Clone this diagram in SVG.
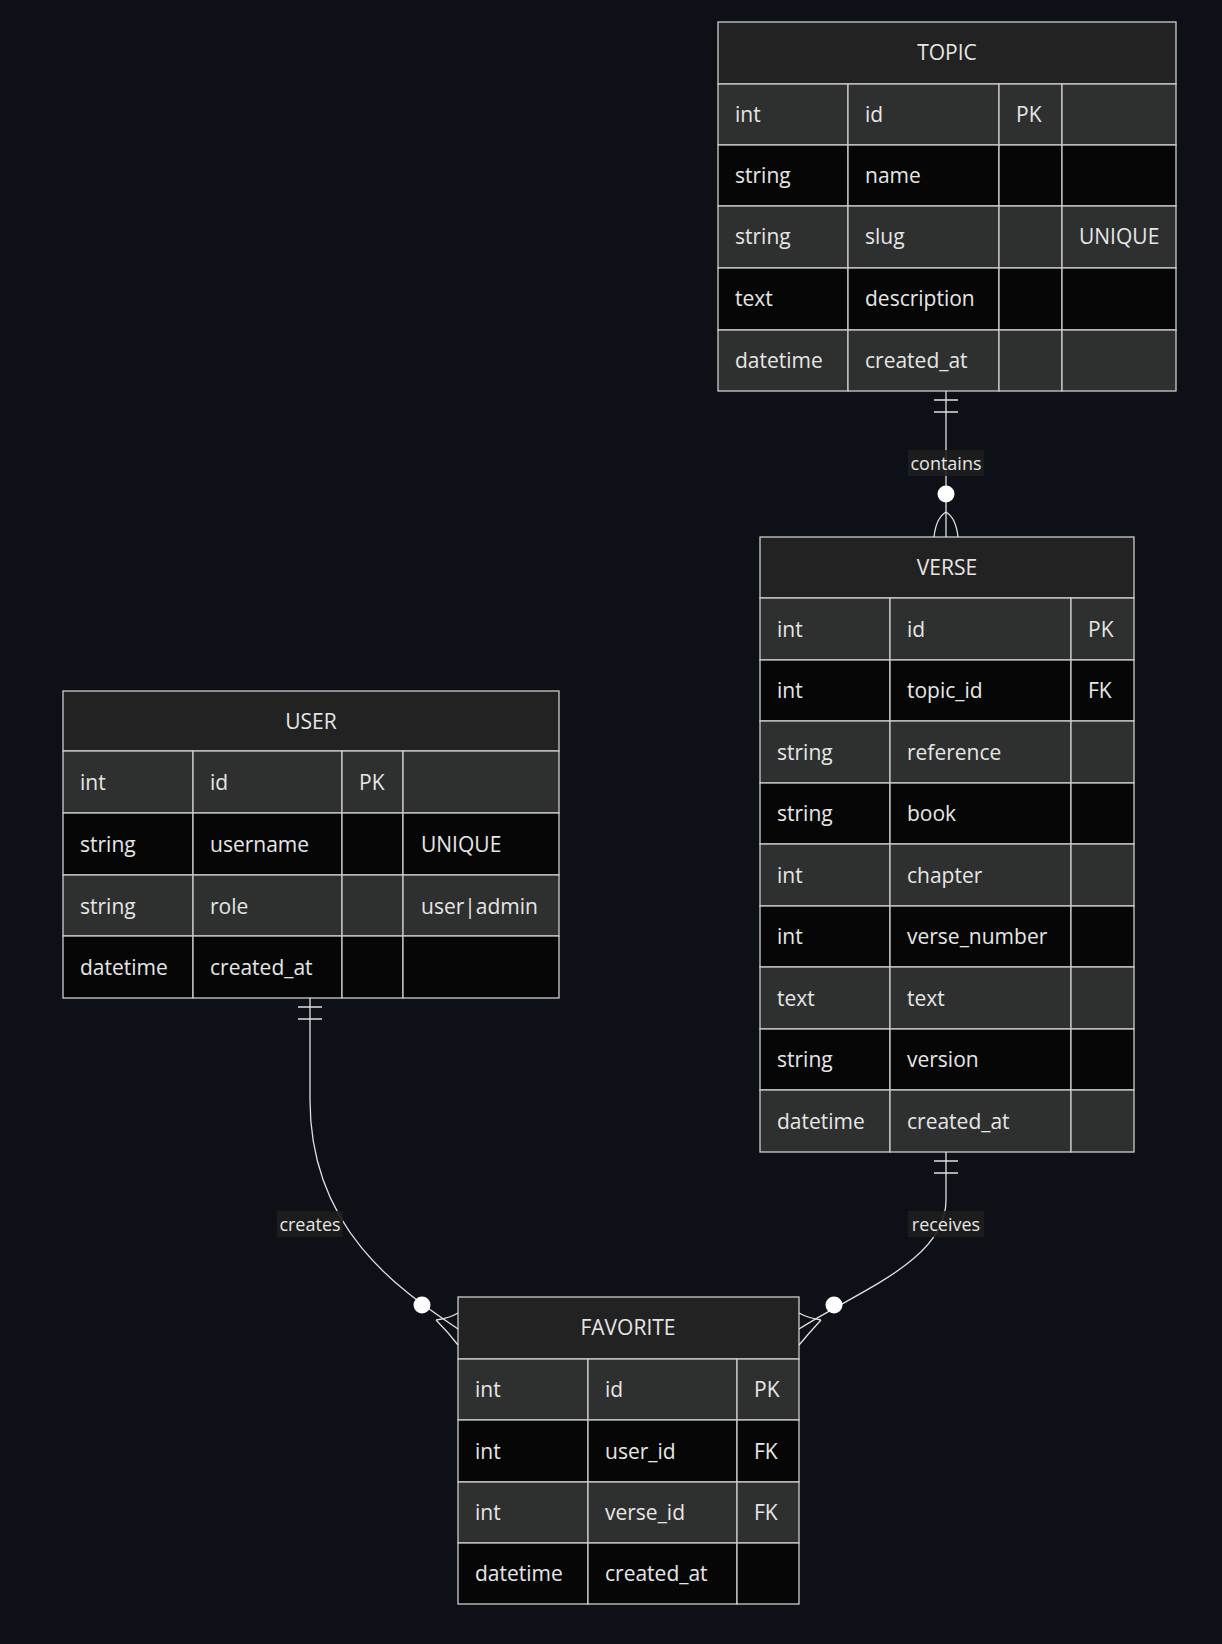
<svg xmlns="http://www.w3.org/2000/svg" width="1222" height="1644" viewBox="0 0 1222 1644">
<style>
.bg{fill:#0d1117}
.h{fill:#222222;stroke:#cccccc;stroke-width:1.3}
.o{fill:#2e2f2f;stroke:#cccccc;stroke-width:1.3}
.e{fill:#060606;stroke:#cccccc;stroke-width:1.3}
text{font-family:"Open Sans","DejaVu Sans",sans-serif;font-size:21px;fill:#e6e6e6}
.t{text-anchor:middle}
.c{fill:none;stroke:#e0e0e0;stroke-width:1.3}
.lb{fill:#1e1e1e;opacity:0.9}
.lt{font-size:18px;text-anchor:middle}
.dot{fill:#ffffff}
</style>
<rect class="bg" width="1222" height="1644"/>
<g id="TOPIC">
<rect class="h" x="718" y="22" width="458" height="62"/>
<text class="t" x="947" y="60">TOPIC</text>
<rect class="o" x="718" y="84" width="130" height="61"/><rect class="o" x="848" y="84" width="151" height="61"/><rect class="o" x="999" y="84" width="63" height="61"/><rect class="o" x="1062" y="84" width="114" height="61"/>
<rect class="e" x="718" y="145" width="130" height="61"/><rect class="e" x="848" y="145" width="151" height="61"/><rect class="e" x="999" y="145" width="63" height="61"/><rect class="e" x="1062" y="145" width="114" height="61"/>
<rect class="o" x="718" y="206" width="130" height="62"/><rect class="o" x="848" y="206" width="151" height="62"/><rect class="o" x="999" y="206" width="63" height="62"/><rect class="o" x="1062" y="206" width="114" height="62"/>
<rect class="e" x="718" y="268" width="130" height="62"/><rect class="e" x="848" y="268" width="151" height="62"/><rect class="e" x="999" y="268" width="63" height="62"/><rect class="e" x="1062" y="268" width="114" height="62"/>
<rect class="o" x="718" y="330" width="130" height="61"/><rect class="o" x="848" y="330" width="151" height="61"/><rect class="o" x="999" y="330" width="63" height="61"/><rect class="o" x="1062" y="330" width="114" height="61"/>
<text x="735" y="122">int</text><text x="865" y="122">id</text><text x="1016" y="122">PK</text>
<text x="735" y="183">string</text><text x="865" y="183">name</text>
<text x="735" y="244">string</text><text x="865" y="244">slug</text><text x="1079" y="244">UNIQUE</text>
<text x="735" y="306">text</text><text x="865" y="306">description</text>
<text x="735" y="368">datetime</text><text x="865" y="368">created_at</text>
</g>
<g id="VERSE">
<rect class="h" x="760" y="537" width="374" height="61"/>
<text class="t" x="947" y="575">VERSE</text>
<rect class="o" x="760" y="598" width="130" height="62"/><rect class="o" x="890" y="598" width="181" height="62"/><rect class="o" x="1071" y="598" width="63" height="62"/>
<rect class="e" x="760" y="660" width="130" height="61"/><rect class="e" x="890" y="660" width="181" height="61"/><rect class="e" x="1071" y="660" width="63" height="61"/>
<rect class="o" x="760" y="721" width="130" height="62"/><rect class="o" x="890" y="721" width="181" height="62"/><rect class="o" x="1071" y="721" width="63" height="62"/>
<rect class="e" x="760" y="783" width="130" height="61"/><rect class="e" x="890" y="783" width="181" height="61"/><rect class="e" x="1071" y="783" width="63" height="61"/>
<rect class="o" x="760" y="844" width="130" height="62"/><rect class="o" x="890" y="844" width="181" height="62"/><rect class="o" x="1071" y="844" width="63" height="62"/>
<rect class="e" x="760" y="906" width="130" height="61"/><rect class="e" x="890" y="906" width="181" height="61"/><rect class="e" x="1071" y="906" width="63" height="61"/>
<rect class="o" x="760" y="967" width="130" height="62"/><rect class="o" x="890" y="967" width="181" height="62"/><rect class="o" x="1071" y="967" width="63" height="62"/>
<rect class="e" x="760" y="1029" width="130" height="61"/><rect class="e" x="890" y="1029" width="181" height="61"/><rect class="e" x="1071" y="1029" width="63" height="61"/>
<rect class="o" x="760" y="1090" width="130" height="62"/><rect class="o" x="890" y="1090" width="181" height="62"/><rect class="o" x="1071" y="1090" width="63" height="62"/>
<text x="777" y="637">int</text><text x="907" y="637">id</text><text x="1088" y="637">PK</text>
<text x="777" y="698">int</text><text x="907" y="698">topic_id</text><text x="1088" y="698">FK</text>
<text x="777" y="760">string</text><text x="907" y="760">reference</text>
<text x="777" y="821">string</text><text x="907" y="821">book</text>
<text x="777" y="883">int</text><text x="907" y="883">chapter</text>
<text x="777" y="944">int</text><text x="907" y="944">verse_number</text>
<text x="777" y="1006">text</text><text x="907" y="1006">text</text>
<text x="777" y="1067">string</text><text x="907" y="1067">version</text>
<text x="777" y="1129">datetime</text><text x="907" y="1129">created_at</text>
</g>
<g id="USER">
<rect class="h" x="63" y="691" width="496" height="60"/>
<text class="t" x="311" y="729">USER</text>
<rect class="o" x="63" y="751" width="130" height="62"/><rect class="o" x="193" y="751" width="149" height="62"/><rect class="o" x="342" y="751" width="61" height="62"/><rect class="o" x="403" y="751" width="156" height="62"/>
<rect class="e" x="63" y="813" width="130" height="62"/><rect class="e" x="193" y="813" width="149" height="62"/><rect class="e" x="342" y="813" width="61" height="62"/><rect class="e" x="403" y="813" width="156" height="62"/>
<rect class="o" x="63" y="875" width="130" height="61"/><rect class="o" x="193" y="875" width="149" height="61"/><rect class="o" x="342" y="875" width="61" height="61"/><rect class="o" x="403" y="875" width="156" height="61"/>
<rect class="e" x="63" y="936" width="130" height="62"/><rect class="e" x="193" y="936" width="149" height="62"/><rect class="e" x="342" y="936" width="61" height="62"/><rect class="e" x="403" y="936" width="156" height="62"/>
<text x="80" y="790">int</text><text x="210" y="790">id</text><text x="359" y="790">PK</text>
<text x="80" y="852">string</text><text x="210" y="852">username</text><text x="421" y="852">UNIQUE</text>
<text x="80" y="914">string</text><text x="210" y="914">role</text><text x="421" y="914">user|admin</text>
<text x="80" y="975">datetime</text><text x="210" y="975">created_at</text>
</g>
<g id="FAVORITE">
<rect class="h" x="458" y="1297" width="341" height="62"/>
<text class="t" x="628" y="1335">FAVORITE</text>
<rect class="o" x="458" y="1359" width="130" height="61"/><rect class="o" x="588" y="1359" width="149" height="61"/><rect class="o" x="737" y="1359" width="62" height="61"/>
<rect class="e" x="458" y="1420" width="130" height="62"/><rect class="e" x="588" y="1420" width="149" height="62"/><rect class="e" x="737" y="1420" width="62" height="62"/>
<rect class="o" x="458" y="1482" width="130" height="61"/><rect class="o" x="588" y="1482" width="149" height="61"/><rect class="o" x="737" y="1482" width="62" height="61"/>
<rect class="e" x="458" y="1543" width="130" height="61"/><rect class="e" x="588" y="1543" width="149" height="61"/><rect class="e" x="737" y="1543" width="62" height="61"/>
<text x="475" y="1397">int</text><text x="605" y="1397">id</text><text x="754" y="1397">PK</text>
<text x="475" y="1459">int</text><text x="605" y="1459">user_id</text><text x="754" y="1459">FK</text>
<text x="475" y="1520">int</text><text x="605" y="1520">verse_id</text><text x="754" y="1520">FK</text>
<text x="475" y="1581">datetime</text><text x="605" y="1581">created_at</text>
</g>
<g id="connectors">
<path class="c" d="M946,391 L946,537"/>
<path class="c" d="M934,400 H958 M934,412 H958"/>
<path class="c" d="M946,512 Q936,518 934,537 M946,512 Q956,518 958,537"/>
<circle class="dot" cx="946" cy="494" r="8.5"/>
<rect class="lb" x="908" y="450" width="76" height="26"/>
<text class="lt" x="946" y="470">contains</text>

<path class="c" d="M310,998 L310,1100 C310,1230 400,1290 458,1329"/>
<path class="c" d="M298,1007 H322 M298,1019 H322"/>
<path class="c" d="M436,1320 Q450,1318 458,1313 M436,1320 Q448,1332 458,1345"/>
<circle class="dot" cx="422" cy="1305" r="8.5"/>
<rect class="lb" x="277" y="1211" width="66" height="26"/>
<text class="lt" x="310" y="1231">creates</text>

<path class="c" d="M946,1152 L946,1200 C946,1260 860,1290 799,1329"/>
<path class="c" d="M934,1161 H958 M934,1173 H958"/>
<path class="c" d="M821,1320 Q808,1318 799,1313 M821,1320 Q810,1332 799,1345"/>
<circle class="dot" cx="834" cy="1305" r="8.5"/>
<rect class="lb" x="908" y="1211" width="76" height="26"/>
<text class="lt" x="946" y="1231">receives</text>
</g>
</svg>
